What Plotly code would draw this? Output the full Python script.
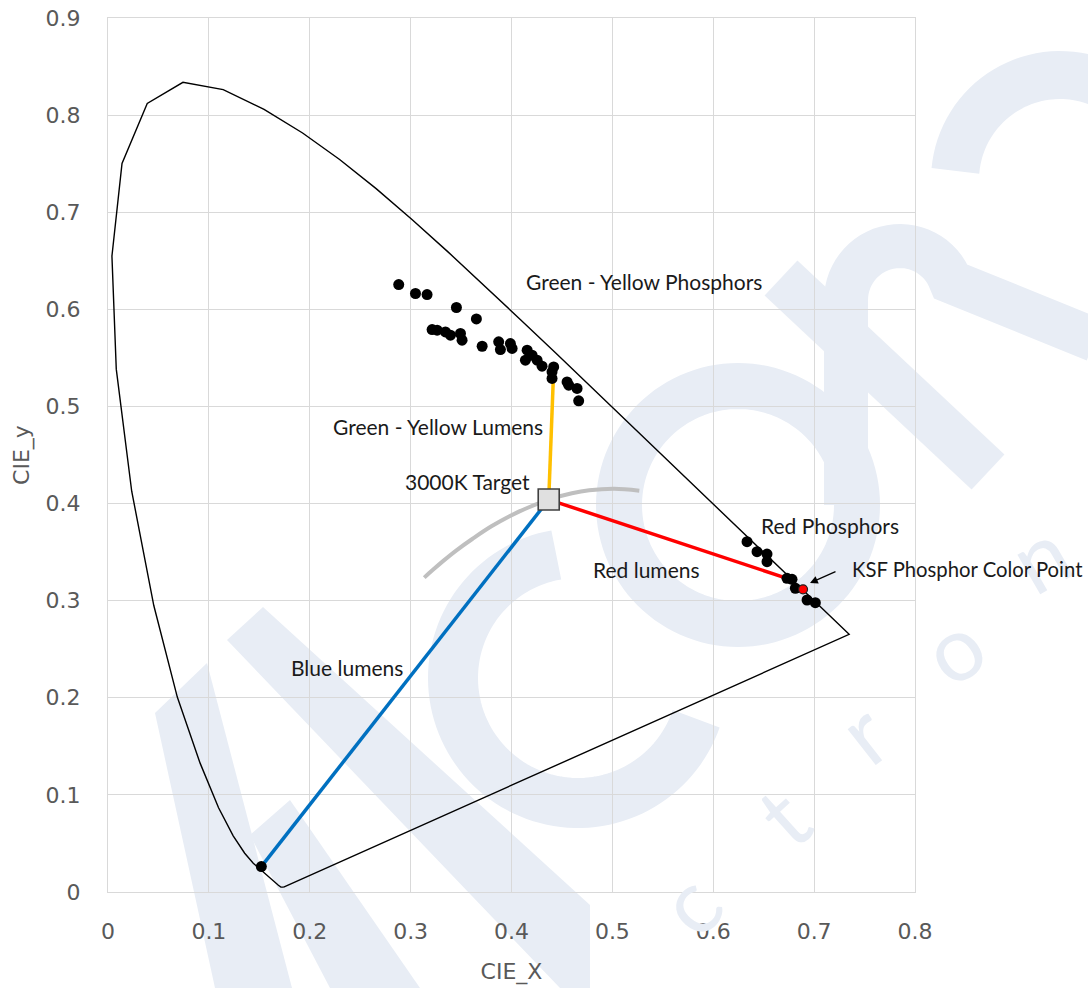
import math
import plotly.graph_objects as go

# ---------------------------------------------------------------------------
# CIE 1931 spectral locus (x, y), 380 nm .. 700 nm, closed by the purple line
# ---------------------------------------------------------------------------
locus_x = [0.1741, 0.1714, 0.1689, 0.1644, 0.1566, 0.1510, 0.1440, 0.1355, 0.1241,
           0.1096, 0.0913, 0.0687, 0.0454, 0.0235, 0.0082, 0.0039, 0.0139, 0.0389,
           0.0743, 0.1142, 0.1547, 0.1929, 0.2296, 0.2658, 0.3016, 0.3373, 0.3731,
           0.4087, 0.4441, 0.4788, 0.5125, 0.5448, 0.5752, 0.6029, 0.6270, 0.6482,
           0.6658, 0.6915, 0.7079, 0.7190, 0.7260, 0.7300, 0.7334, 0.7347, 0.1741]
locus_y = [0.0050, 0.0051, 0.0069, 0.0109, 0.0177, 0.0227, 0.0297, 0.0399, 0.0578,
           0.0868, 0.1327, 0.2007, 0.2950, 0.4127, 0.5384, 0.6548, 0.7502, 0.8120,
           0.8338, 0.8262, 0.8059, 0.7816, 0.7543, 0.7243, 0.6923, 0.6589, 0.6245,
           0.5896, 0.5547, 0.5202, 0.4866, 0.4544, 0.4242, 0.3965, 0.3725, 0.3514,
           0.3340, 0.3083, 0.2920, 0.2809, 0.2740, 0.2700, 0.2666, 0.2653, 0.0050]

# Planckian locus, 6500 K .. 2000 K
planck_x = [0.3135, 0.3221, 0.3324, 0.3451, 0.3611, 0.3805, 0.4053, 0.4369, 0.4599,
            0.4770, 0.5018, 0.5267]
planck_y = [0.3237, 0.3318, 0.3410, 0.3516, 0.3635, 0.3768, 0.3907, 0.4041, 0.4106,
            0.4137, 0.4153, 0.4133]

# Green - yellow phosphor colour points
gy_x = [0.2882, 0.3048, 0.3163, 0.3454, 0.3652, 0.3213, 0.3263, 0.3345, 0.3395,
        0.3494, 0.3510, 0.3709, 0.3873, 0.3890, 0.3989, 0.4006, 0.4155, 0.4138,
        0.4204, 0.4254, 0.4303, 0.4418, 0.4402, 0.4402, 0.4551, 0.4567, 0.4650,
        0.4666]
gy_y = [0.6255, 0.6163, 0.6152, 0.6019, 0.5901, 0.5792, 0.5785, 0.5767, 0.5734,
        0.5751, 0.5682, 0.5620, 0.5665, 0.5586, 0.5648, 0.5597, 0.5579, 0.5476,
        0.5528, 0.5476, 0.5415, 0.5407, 0.5356, 0.5288, 0.5253, 0.5219, 0.5185,
        0.5058]

# Red phosphor colour points
red_x = [0.6335, 0.6434, 0.6533, 0.6533, 0.6731, 0.6781, 0.6814, 0.6930, 0.7012]
red_y = [0.3607, 0.3504, 0.3480, 0.3401, 0.3230, 0.3220, 0.3128, 0.3007, 0.2979]

# KSF phosphor, blue LED and 3000 K target
ksf_pt = (0.6890, 0.3117)
blue_pt = (0.1520, 0.0262)
target_pt = (0.4369, 0.4041)

# Lumen vectors from the target
blue_line_x = [blue_pt[0], target_pt[0]]
blue_line_y = [blue_pt[1], target_pt[1]]
yellow_line_x = [target_pt[0], 0.4415]
yellow_line_y = [target_pt[1], 0.5300]
red_line_x = [target_pt[0], 0.6731]
red_line_y = [target_pt[1], 0.3230]

x_ticks = [0, 0.1, 0.2, 0.3, 0.4, 0.5, 0.6, 0.7, 0.8]
y_ticks = [0, 0.1, 0.2, 0.3, 0.4, 0.5, 0.6, 0.7, 0.8, 0.9]

# ---------------------------------------------------------------------------
W, H = 1088, 988
ML, MR, MT, MB = 108, 173, 18, 96
PW, PH = W - ML - MR, H - MT - MB

fig = go.Figure()

fig.add_trace(go.Scatter(x=locus_x, y=locus_y, mode="lines",
                         line=dict(color="black", width=1.4), hoverinfo="skip"))
fig.add_trace(go.Scatter(x=planck_x, y=planck_y, mode="lines",
                         line=dict(color="#BFBFBF", width=4, shape="spline"),
                         hoverinfo="skip"))
fig.add_trace(go.Scatter(x=blue_line_x, y=blue_line_y, mode="lines",
                         line=dict(color="#0070C0", width=3.5)))
fig.add_trace(go.Scatter(x=yellow_line_x, y=yellow_line_y, mode="lines",
                         line=dict(color="#FFC000", width=3.5)))
fig.add_trace(go.Scatter(x=red_line_x, y=red_line_y, mode="lines",
                         line=dict(color="#FF0000", width=3.5)))
fig.add_trace(go.Scatter(x=gy_x, y=gy_y, mode="markers",
                         marker=dict(color="black", size=11)))
fig.add_trace(go.Scatter(x=red_x, y=red_y, mode="markers",
                         marker=dict(color="black", size=11)))
fig.add_trace(go.Scatter(x=[blue_pt[0]], y=[blue_pt[1]], mode="markers",
                         marker=dict(color="black", size=11)))
fig.add_trace(go.Scatter(x=[ksf_pt[0]], y=[ksf_pt[1]], mode="markers",
                         marker=dict(color="#FF0000", size=9,
                                     line=dict(color="#202020", width=1.2))))
fig.add_trace(go.Scatter(x=[target_pt[0]], y=[target_pt[1]], mode="markers",
                         marker=dict(symbol="square", color="#E0E0E0", size=21,
                                     line=dict(color="#404040", width=1.6))))

# ---------------------------------------------------------------------------
# Faint logo watermark, built from stroked paths in paper coordinates
WM = "#E8EDF5"


def pp(px, py):
    return (px - ML) / PW, (H - MB - py) / PH


def path_from(points, closed=False):
    parts = []
    for i, (px, py) in enumerate(points):
        x, y = pp(px, py)
        parts.append(("M" if i == 0 else "L") + f"{x:.5f},{y:.5f}")
    return " ".join(parts) + (" Z" if closed else "")


def arc_points(cx, cy, r, a0, a1, n=90):
    pts = []
    for i in range(n + 1):
        a = math.radians(a0 + (a1 - a0) * i / n)
        pts.append((cx + r * math.cos(a), cy - r * math.sin(a)))
    return pts


def stroke(points, width, closed=False):
    fig.add_shape(type="path", xref="paper", yref="paper", layer="below",
                  path=path_from(points, closed),
                  line=dict(color=WM, width=width))


def poly(points):
    fig.add_shape(type="path", xref="paper", yref="paper", layer="below",
                  path=path_from(points, True), fillcolor=WM,
                  line=dict(width=0))


# "A"
poly([(155, 713), (207, 663), (292, 988), (215, 988)])
poly([(227, 640), (263, 607), (590, 905), (590, 988), (560, 988)])
poly([(250, 835), (290, 800), (420, 988), (330, 988)])
# "C"
stroke(arc_points(578, 678, 125, 100, 341), 50)
# "o" / first stroke of "m"
stroke(arc_points(738, 505, 119, 0, 360, 120), 46, closed=True)
# "m" humps
stroke([(846, 505), (846, 330)] + arc_points(900, 300, 54, 180, 20, 30)
       + [(1095, 340)], 44)
stroke(arc_points(1060, 180, 105, 175, 40, 40), 48)
stroke([(781, 278), (988, 472)], 48)

# "ectron" letters
for ch, px, py, ang, sz in [("c", 746, 957, -50, 90), ("t", 833, 869, -42, 90),
                            ("r", 912, 787, -38, 90), ("o", 1007, 709, -35, 90),
                            ("n", 1090, 555, -30, 90)]:
    x, y = pp(px, py)
    fig.add_annotation(x=x, y=y, xref="paper", yref="paper", text=ch,
                       showarrow=False, textangle=ang,
                       font=dict(family="Lato", size=sz, color=WM))

# ---------------------------------------------------------------------------
TXT = dict(family="Lato", size=21, color="#1A1A1A")
labels = [
    ("Green - Yellow Phosphors", 0.4128, 0.6269, "left", 21),
    ("Green - Yellow Lumens", 0.4336, 0.4777, "right", 21),
    ("3000K Target", 0.4204, 0.4211, "right", 21),
    ("Red Phosphors", 0.6450, 0.3755, "left", 21),
    ("Red lumens", 0.4792, 0.3302, "left", 21),
    ("KSF Phosphor Color Point", 0.7359, 0.3309, "left", 20.3),
    ("Blue lumens", 0.1792, 0.2287, "left", 21),
]
for text, x, y, anchor, size in labels:
    fig.add_annotation(x=x, y=y, xref="x", yref="y", text=text, showarrow=False,
                       xanchor=anchor, yanchor="middle", yshift=2,
                       font=dict(TXT, size=size))

fig.add_annotation(x=0.6959, y=0.3182, xref="x", yref="y", text="",
                   showarrow=True, arrowhead=2, arrowsize=1.3, arrowwidth=1.2,
                   arrowcolor="black", ax=27, ay=-12, standoff=0)

AX_FONT = dict(family="DejaVu Sans", size=22, color="#595959")
GRID = "#D9D9D9"
fig.update_xaxes(range=[0, 0.8], tickvals=x_ticks, ticktext=[f"{v:g}" for v in x_ticks],
                 showgrid=True, gridcolor=GRID, gridwidth=1, zeroline=False,
                 showline=True, linecolor=GRID, mirror=True, ticks="",
                 automargin=False, tickfont=AX_FONT, ticklabelstandoff=20,
                 title=dict(text="CIE_X", font=dict(family="DejaVu Sans", size=22,
                                                    color="#595959"), standoff=20))
fig.update_yaxes(range=[0, 0.9], tickvals=y_ticks, ticktext=[f"{v:g}" for v in y_ticks],
                 showgrid=True, gridcolor=GRID, gridwidth=1, zeroline=False,
                 showline=True, linecolor=GRID, mirror=True, ticks="",
                 automargin=False, tickfont=AX_FONT, ticklabelstandoff=22,
                 title=dict(text="CIE_y", font=dict(family="DejaVu Sans", size=22,
                                                    color="#595959"), standoff=9))

fig.update_layout(width=W, height=H, margin=dict(l=ML, r=MR, t=MT, b=MB),
                  paper_bgcolor="white", plot_bgcolor="white", showlegend=False)

fig.write_html("out.html")
